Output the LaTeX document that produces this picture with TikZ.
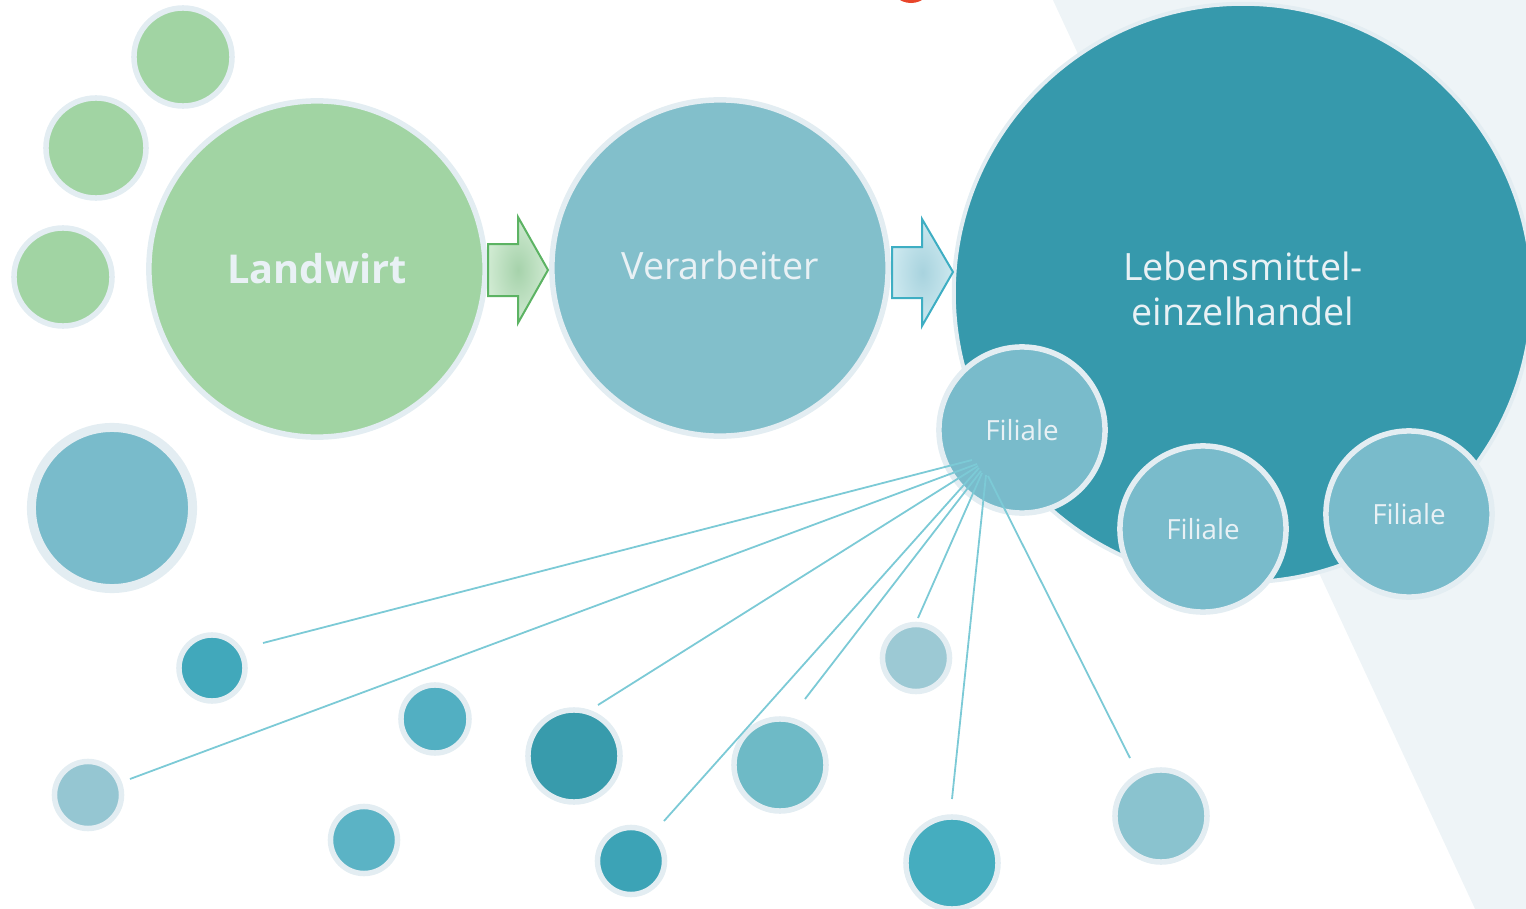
\documentclass[tikz,border=0pt]{standalone}
\usepackage{fontspec}
\setmainfont{Open Sans}
\usepackage{xcolor}
\usepackage{tikz}

\definecolor{ringgrey}{HTML}{E3EDF2}
\definecolor{washgrey}{HTML}{EEF4F7}
\definecolor{leafgreen}{HTML}{A1D4A3}
\definecolor{mistblue}{HTML}{82BFCB}
\definecolor{deepteal}{HTML}{3699AC}
\definecolor{branchblue}{HTML}{79BBCB}
\definecolor{spokeblue}{HTML}{7CCAD6}
\definecolor{paletext}{HTML}{E9F1F5}
\definecolor{signalred}{HTML}{E8452A}
\definecolor{arrowgreenin}{HTML}{A6D2AB}
\definecolor{arrowgreenout}{HTML}{CFEAD1}
\definecolor{arrowgreenline}{HTML}{5CB363}
\definecolor{arrowbluein}{HTML}{A8D3DE}
\definecolor{arrowblueout}{HTML}{CCE8EF}
\definecolor{arrowblueline}{HTML}{3EAEC3}

\tikzset{
	bubble/.style={circle, inner sep=0pt, draw=ringgrey, line width=0.55mm, minimum size=#1*0.02cm},
	tagtext/.style={text=paletext, align=center, font=\fontsize{10.7}{13}\selectfont},
	spoke/.style={draw=spokeblue, line width=0.18mm},
}

\begin{document}
\begin{tikzpicture}[x=0.01cm, y=-0.01cm]
			\def\W{1526};
			\def\H{909};

			\useasboundingbox (0,0) rectangle (\W,\H);

			\begin{scope}
				\fill [washgrey] (1052,-2) -- (\W+4,-2) -- (\W+4,\H+2) -- (1476,\H+2) -- cycle;
				\draw [signalred, line width=0.4mm] (911,-19) circle [radius=20];
			\end{scope}

			% seed bubbles
			\begin{scope}
				\node [bubble=49, fill=leafgreen] (seedA) at (183,57) {};
				\node [bubble=50, fill=leafgreen] (seedB) at (96,148) {};
				\node [bubble=49, fill=leafgreen] (seedC) at (63,277) {};
				\node [bubble=80.5, line width=0.9mm, fill=branchblue] (pool) at (112,508) {};
			\end{scope}

			% chain
			\begin{scope}
				\node [bubble=168, fill=leafgreen, tagtext, font=\fontsize{11.3}{13}\selectfont\bfseries] (farm) at (317,269) {Landwirt};
				\node [bubble=168, fill=mistblue] (proc) at (720,268) {};
				\node [tagtext] (procText) at (720,265) {Verarbeiter};
				\node [bubble=289, line width=0.4mm, fill=deepteal] (retail) at (1243,293) {};
				\node [tagtext] (retailText) at (1243,289) {Lebensmittel-\\einzelhandel};

				\shadedraw [inner color=arrowgreenin, outer color=arrowgreenout, draw=arrowgreenline, line width=0.2mm]
					(488,244) -- (518,244) -- (518,217) -- (548,270) -- (518,323) -- (518,296) -- (488,296) -- cycle;
				\shadedraw [inner color=arrowbluein, outer color=arrowblueout, draw=arrowblueline, line width=0.2mm]
					(892,247) -- (922,247) -- (922,219) -- (953,272) -- (922,326) -- (922,298) -- (892,298) -- cycle;
			\end{scope}

			% stores
			\begin{scope}[tagtext, font=\fontsize{7.9}{10}\selectfont]
				\node [bubble=83, fill=branchblue, text=paletext] (storeA) at (1022,430) {Filiale};
				\node [bubble=83, fill=branchblue, text=paletext] (storeB) at (1203,529) {Filiale};
				\node [bubble=83, fill=branchblue, text=paletext] (storeC) at (1409,514) {Filiale};
			\end{scope}

			% customers
			\begin{scope}
				\node [bubble=33, fill={rgb,255:red,65;green,168;blue,187}] (custA) at (212,668) {};
				\node [bubble=34, fill={rgb,255:red,82;green,175;blue,194}] (custB) at (435,719) {};
				\node [bubble=33.5, fill={rgb,255:red,149;green,198;blue,210}] (custC) at (88,795) {};
				\node [bubble=33.5, fill={rgb,255:red,91;green,179;blue,197}] (custD) at (364,840) {};
				\node [bubble=46, fill={rgb,255:red,56;green,155;blue,172}] (custE) at (574,756) {};
				\node [bubble=33.5, fill={rgb,255:red,60;green,163;blue,182}] (custF) at (631,861) {};
				\node [bubble=46, fill={rgb,255:red,110;green,186;blue,198}] (custG) at (780,765) {};
				\node [bubble=33.5, fill={rgb,255:red,156;green,201;blue,212}] (custH) at (916,658) {};
				\node [bubble=46, fill={rgb,255:red,69;green,173;blue,191}] (custI) at (952,863) {};
				\node [bubble=46, fill={rgb,255:red,138;green,195;blue,207}] (custJ) at (1161,816) {};
			\end{scope}

			% spokes
			\begin{scope}
				\coordinate (hubA) at (972,460);
				\coordinate (hubB) at (977,464);
				\coordinate (hubC) at (978,466);
				\coordinate (hubD) at (979,468);
				\coordinate (hubE) at (981,471);
				\coordinate (hubF) at (982,473);
				\coordinate (hubG) at (986,475);
				\coordinate (hubH) at (988,476);

				\coordinate (tipA) at (263,643);
				\coordinate (tipB) at (130,779);
				\coordinate (tipC) at (598,705);
				\coordinate (tipD) at (664,821);
				\coordinate (tipE) at (805,699);
				\coordinate (tipF) at (918,618);
				\coordinate (tipG) at (952,799);
				\coordinate (tipH) at (1130,758);

				\foreach \s in {A,B,C,D,E,F,G,H}
					\draw [spoke] (hub\s) -- (tip\s);
			\end{scope}
		\end{tikzpicture}
\end{document}
